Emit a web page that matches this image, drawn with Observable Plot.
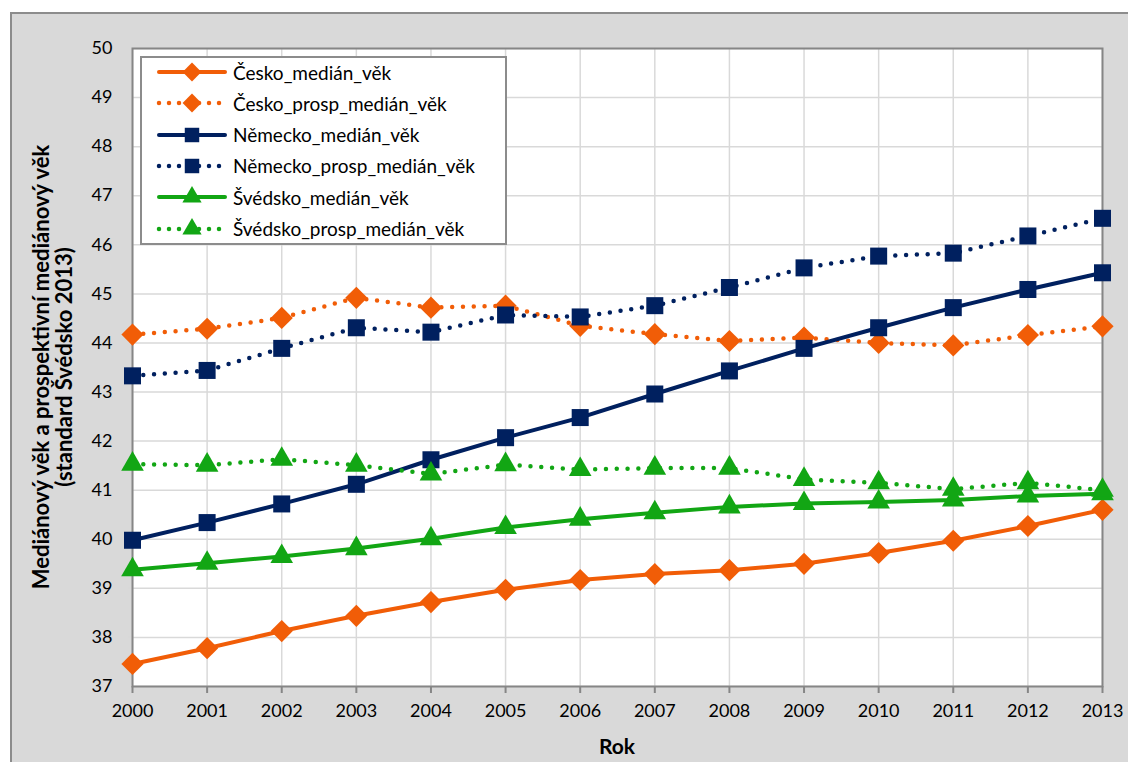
<!DOCTYPE html>
<html><head><meta charset="utf-8">
<script src="https://cdn.jsdelivr.net/npm/d3@7"></script>
<script src="https://cdn.jsdelivr.net/npm/@observablehq/plot@0.6"></script>
<style>
body{margin:0;background:#fff;width:1128px;height:762px;overflow:hidden;position:relative;font-family:Lato,sans-serif}
#frame{position:absolute;left:10px;top:12px;width:1130px;height:760px;background:#d9d9d9;border:2px solid #8c8c8c;box-sizing:border-box}
#chart{position:absolute;left:0;top:0}
#legend{position:absolute;left:140px;top:56px;width:367px;height:189px;background:#fff;border:2px solid #8c8c8c;box-sizing:border-box}
.item{position:absolute;left:0;height:26px;display:flex;align-items:center;font-size:19px;color:#000;white-space:nowrap}
.item svg{margin-left:14px;margin-right:5px}
#xtitle{position:absolute;left:0;width:1234px;top:733px;text-align:center;font-weight:bold;font-size:21px}
#ytitle{position:absolute;left:52px;top:367px;width:700px;transform:translate(-50%,-50%) rotate(-90deg);text-align:center;font-weight:bold;font-size:22px;line-height:23px}
</style></head>
<body>
<div id="frame"></div>
<div id="chart"></div>
<div id="legend"></div>
<div id="xtitle">Rok</div>
<div id="ytitle">Mediánový věk a prospektivní mediánový věk<br>(standard Švédsko 2013)</div>
<script>
const years = [2000,2001,2002,2003,2004,2005,2006,2007,2008,2009,2010,2011,2012,2013];
const yTicks = [37,38,39,40,41,42,43,44,45,46,47,48,49,50];
const seriesNames = ["Česko_medián_věk","Česko_prosp_medián_věk","Německo_medián_věk","Německo_prosp_medián_věk","Švédsko_medián_věk","Švédsko_prosp_medián_věk"];
const ceskoMedian =     [37.46,37.78,38.13,38.44,38.72,38.97,39.17,39.29,39.37,39.50,39.72,39.97,40.27,40.60];
const ceskoProsp =      [44.17,44.29,44.51,44.92,44.72,44.76,44.35,44.18,44.04,44.11,44.00,43.95,44.16,44.34];
const nemeckoMedian =   [39.98,40.34,40.72,41.12,41.62,42.07,42.48,42.96,43.43,43.89,44.31,44.72,45.09,45.43];
const nemeckoProsp =    [43.33,43.44,43.89,44.31,44.22,44.57,44.53,44.76,45.13,45.53,45.77,45.83,46.18,46.54];
const svedskoMedian =   [39.38,39.51,39.65,39.81,40.01,40.24,40.41,40.54,40.66,40.73,40.76,40.80,40.88,40.93];
const svedskoProsp =    [41.53,41.51,41.63,41.51,41.33,41.52,41.42,41.45,41.45,41.22,41.15,41.02,41.15,41.00];
const colors = ["#f15d07","#f15d07","#00205f","#00205f","#12a614","#12a614"];
const dotted = [false,true,false,true,false,true];
const symbols = ["diamond2","diamond2","square","square","triangle","triangle"];
const radii = [10,10,9.6,9.6,8.4,8.4];

const values = [ceskoMedian,ceskoProsp,nemeckoMedian,nemeckoProsp,svedskoMedian,svedskoProsp];
const series = seriesNames.map((name,i)=>({name,i,rows:years.map((year,j)=>({year,value:values[i][j],name}))}));

const marks = [
  Plot.frame({fill:"white"}),
  Plot.gridX(years,{stroke:"#d9d9d9",strokeOpacity:1,strokeWidth:1.5}),
  Plot.gridY(yTicks,{stroke:"#d9d9d9",strokeOpacity:1,strokeWidth:1.5}),
  Plot.axisY(yTicks,{tickSize:4,tickPadding:16,stroke:"#d9d9d9",strokeOpacity:1,label:null,fontSize:18,fill:"#000"}),
  Plot.axisX(years,{tickSize:7,tickPadding:11,stroke:"#868686",strokeWidth:2,strokeOpacity:1,label:null,tickFormat:d=>String(d),fontSize:18,fill:"#000"}),
  Plot.frame({stroke:"#868686",strokeWidth:2})
];
for (const s of series) {
  const i = s.i;
  marks.push(Plot.line(s.rows,{x:"year",y:"value",stroke:colors[i],strokeWidth:dotted[i]?4.5:4,
    strokeDasharray:dotted[i]?"0 10.8":null,strokeLinecap:"round",strokeLinejoin:"round"}));
  marks.push(Plot.dot(s.rows,{x:"year",y:"value",symbol:symbols[i],fill:colors[i],stroke:"none",r:radii[i]}));
}

const chart = Plot.plot({
  width:1128,height:762,
  marginLeft:132,marginRight:26,marginTop:48,marginBottom:76,
  x:{domain:[2000,2013],axis:null},
  y:{domain:[37,50],axis:null},
  style:{background:"transparent",fontFamily:"Lato, sans-serif",color:"#000",overflow:"visible"},
  marks
});
document.getElementById("chart").append(chart);

// legend
const legend = document.getElementById("legend");
const symMap = {diamond2:d3.symbolDiamond2,square:d3.symbolSquare,triangle:d3.symbolTriangle};
series.forEach((s,k)=>{
  const i = s.i;
  const div = document.createElement("div");
  div.className="item";
  div.style.top = (1 + k*31.3) + "px";
  const svg = d3.create("svg").attr("width",72).attr("height",26);
  svg.append("line").attr("x1",3).attr("x2",69).attr("y1",13).attr("y2",13)
    .attr("stroke",colors[i]).attr("stroke-width",dotted[i]?4.5:4)
    .attr("stroke-linecap","round").attr("stroke-dasharray",dotted[i]?"0 10":null);
  const area = Math.PI*Math.pow(radii[i]*0.85,2);
  svg.append("path").attr("d",d3.symbol(symMap[symbols[i]],area)()).attr("transform","translate(36,13)").attr("fill",colors[i]);
  div.append(svg.node());
  const t = document.createElement("span");
  t.textContent = s.name;
  div.append(t);
  legend.append(div);
});
</script>
</body></html>
